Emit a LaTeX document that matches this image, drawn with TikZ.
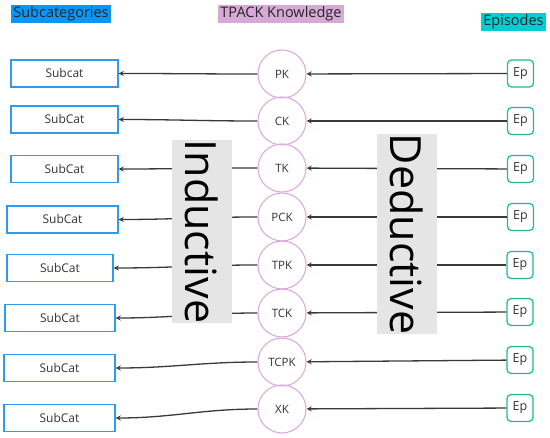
\documentclass[tikz,border=0pt]{standalone}
\usepackage{fontspec}
\setmainfont{Open Sans}
\usetikzlibrary{arrows}
\definecolor{subblue}{HTML}{2E9BF0}
\definecolor{headblue}{HTML}{0A96F8}
\definecolor{headpurple}{HTML}{D6A9D6}
\definecolor{circpurple}{HTML}{DDAADD}
\definecolor{headcyan}{HTML}{00CDD4}
\definecolor{epteal}{HTML}{1DB898}
\definecolor{linegray}{HTML}{3A3A3A}
\definecolor{txtgray}{HTML}{333333}
\tikzstyle{header} = [rectangle, inner sep=2pt, text=black!85, font=\fontsize{14.5}{16}\selectfont]
\tikzstyle{subcat} = [rectangle, minimum width=107pt, minimum height=27pt, text centered, draw=subblue, line width=1.2pt, font=\fontsize{12}{14}\selectfont]
\tikzstyle{know} = [circle, minimum size=48pt, inner sep=0pt, draw=circpurple, line width=1.1pt, font=\fontsize{11.5}{13}\selectfont]
\tikzstyle{episode} = [rectangle, rounded corners=4pt, minimum width=26pt, minimum height=27pt, inner sep=0pt, draw=epteal, line width=1.2pt, font=\fontsize{12.5}{14}\selectfont]
\tikzstyle{sidebox} = [rectangle, fill=black!10, minimum height=60pt, inner sep=0pt, rotate=-90, text=black, font=\fontsize{43}{45}\selectfont]
\tikzstyle{arrow} = [line width=1.3pt, draw=linegray, ->, >=stealth]

\begin{document}
\begin{tikzpicture}[x=1pt, y=-1pt, every node/.style={text=txtgray}]
    \useasboundingbox (0,0) rectangle (550,438);
    % column heads
    \node (hsub) [header, fill=headblue] at (61,14) {Subcategories};
    \node (htpack) [header, fill=headpurple] at (281,14) {TPACK Knowledge};
    \node (hep) [header, fill=headcyan] at (513.5,22) {Episodes};

    % subcategories
    \node (sub1) [subcat] at (64.5,73.5) {Subcat};
    \node (sub2) [subcat] at (64.5,119.5) {SubCat};
    \node (sub3) [subcat] at (64.5,169) {SubCat};
    \node (sub4) [subcat, minimum width=111pt] at (62.5,219.5) {SubCat};
    \node (sub5) [subcat, minimum width=106pt] at (60,268) {SubCat};
    \node (sub6) [subcat, minimum width=110pt] at (60,318) {SubCat};
    \node (sub7) [subcat, minimum width=111pt] at (59.5,368) {SubCat};
    \node (sub8) [subcat, minimum width=111pt] at (59.5,418) {SubCat};

    % knowledge
    \node (pk) [know] at (282,74) {PK};
    \node (ck) [know] at (282,121) {CK};
    \node (tk) [know] at (282,168) {TK};
    \node (pck) [know] at (282,217) {PCK};
    \node (tpk) [know] at (282,265) {TPK};
    \node (tck) [know] at (282,313) {TCK};
    \node (tcpk) [know] at (282,362) {TCPK};
    \node (xk) [know] at (282,409) {XK};

    % episodes
    \node (ep1) [episode] at (520.5,73.5) {Ep};
    \node (ep2) [episode] at (520.5,121) {Ep};
    \node (ep3) [episode] at (520.5,169) {Ep};
    \node (ep4) [episode] at (520.5,217) {Ep};
    \node (ep5) [episode] at (520,265) {Ep};
    \node (ep6) [episode] at (520,312) {Ep};
    \node (ep7) [episode] at (520,360) {Ep};
    \node (ep8) [episode] at (520,408) {Ep};

    \draw [arrow] (ep1) -- (pk);
    \draw [arrow] (ep2) -- (ck);
    \draw [arrow] (ep3) -- (tk);
    \draw [arrow] (ep4) -- (pck);
    \draw [arrow] (ep5) -- (tpk);
    \draw [arrow] (ep6) -- (tck);
    \draw [arrow] (ep7) -- (tcpk);
    \draw [arrow] (ep8) -- (xk);

    \draw [arrow] (pk) to[out=180, in=0] (sub1);
    \draw [arrow] (ck) to[out=180, in=0] (sub2);
    \draw [arrow] (tk) to[out=180, in=0] (sub3);
    \draw [arrow] (pck) to[out=180, in=0] (sub4);
    \draw [arrow] (tpk) to[out=180, in=0] (sub5);
    \draw [arrow] (tck) to[out=180, in=0] (sub6);
    \draw [arrow] (tcpk) to[out=180, in=0] (sub7);
    \draw [arrow] (xk) to[out=180, in=0] (sub8);

    % labels over the lines
    \node (induct) [sidebox, minimum width=183pt] at (202,231.5) {Inductive};
    \node (deduct) [sidebox, minimum width=198pt] at (407,234) {Deductive};
\end{tikzpicture}
\end{document}
